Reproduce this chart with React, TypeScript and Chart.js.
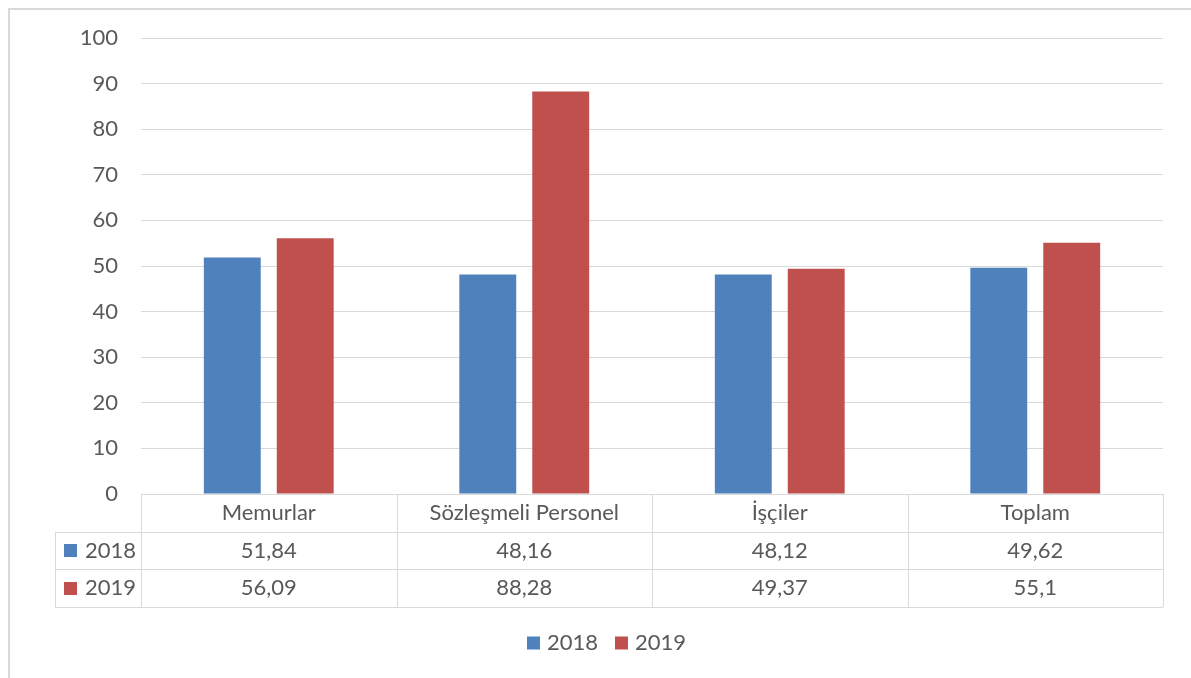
import React, { useEffect, useRef } from "react";
import { Chart, registerables } from "chart.js";

Chart.register(...registerables);

const categories = ["Memurlar", "Sözleşmeli Personel", "İşçiler", "Toplam"];
const seriesNames = ["2018", "2019"];
const values2018 = [51.84, 48.16, 48.12, 49.62];
const values2019 = [56.09, 88.28, 49.37, 55.1];
const seriesColors = ["#4F81BD", "#C0504D"];
const yMin = 0;
const yMax = 100;
const yStep = 10;

const FONT = "Lato, 'Open Sans', sans-serif";
const FSIZE = 22;
const TEXT = "#595959";
const LINE = "#d9d9d9";

const fmt = (v: number) => String(v).replace(".", ",");

const tablePlugin = {
  id: "dataTable",
  afterDraw(chart: any) {
    const ctx = chart.ctx as CanvasRenderingContext2D;
    const { left, right, bottom } = chart.chartArea;
    const n = chart.data.labels.length;
    const colW = (right - left) / n;
    const rowH = 37.7;
    const tLeft = 45;
    const r0 = bottom;
    const r1 = bottom + rowH;
    const r2 = bottom + rowH * 2;
    const r3 = bottom + rowH * 3;
    const px = (v: number) => Math.round(v) + 0.5;
    ctx.save();
    ctx.strokeStyle = LINE;
    ctx.lineWidth = 1;
    ctx.beginPath();
    ctx.moveTo(left, px(r0));
    ctx.lineTo(right, px(r0));
    [r1, r2, r3].forEach((y) => {
      ctx.moveTo(tLeft, px(y));
      ctx.lineTo(right, px(y));
    });
    for (let i = 0; i <= n; i++) {
      const x = px(left + i * colW);
      ctx.moveTo(x, r0);
      ctx.lineTo(x, r3);
    }
    ctx.moveTo(px(tLeft), r1);
    ctx.lineTo(px(tLeft), r3);
    ctx.stroke();

    ctx.fillStyle = TEXT;
    ctx.font = `${FSIZE}px ${FONT}`;
    ctx.textAlign = "center";
    ctx.textBaseline = "middle";
    const xs = chart.scales.x;
    chart.data.labels.forEach((lab: string, i: number) => {
      const cx = xs.getPixelForValue(i);
      ctx.fillText(lab, cx, (r0 + r1) / 2);
    });
    chart.data.datasets.forEach((ds: any, di: number) => {
      const yc = di === 0 ? (r1 + r2) / 2 : (r2 + r3) / 2;
      ds.data.forEach((v: number, i: number) => {
        ctx.fillStyle = TEXT;
        ctx.textAlign = "center";
        ctx.fillText(fmt(v), xs.getPixelForValue(i), yc);
      });
      ctx.fillStyle = ds.backgroundColor;
      ctx.fillRect(54, Math.round(yc - 6.5), 13, 13);
      ctx.fillStyle = TEXT;
      ctx.textAlign = "left";
      ctx.fillText(ds.label, 75, yc);
    });

    // bottom legend
    const ly = 633;
    let lx = 517;
    chart.data.datasets.forEach((ds: any) => {
      ctx.fillStyle = ds.backgroundColor;
      ctx.fillRect(lx, ly - 6.5, 13, 13);
      ctx.fillStyle = TEXT;
      ctx.textAlign = "left";
      ctx.fillText(ds.label, lx + 20, ly);
      lx += 88;
    });
    ctx.restore();
  },
};

export default function App() {
  const ref = useRef<HTMLCanvasElement | null>(null);
  useEffect(() => {
    if (!ref.current) return;
    const chart = new Chart(ref.current, {
      type: "bar",
      data: {
        labels: categories,
        datasets: [
          { label: seriesNames[0], data: values2018, backgroundColor: seriesColors[0] },
          { label: seriesNames[1], data: values2019, backgroundColor: seriesColors[1] },
        ],
      },
      options: {
        animation: false,
        responsive: false,
        maintainAspectRatio: false,
        layout: { padding: { top: 28, left: 0, right: 28, bottom: 184 } },
        datasets: { bar: { categoryPercentage: 0.571, barPercentage: 0.78 } },
        plugins: { legend: { display: false }, tooltip: { enabled: false } },
        scales: {
          x: {
            display: true,
            grid: { display: false },
            border: { display: false },
            ticks: { display: false },
            afterFit: (s: any) => {
              s.height = 0;
              s.paddingLeft = 0;
              s.paddingRight = 0;
            },
          },
          y: {
            min: yMin,
            max: yMax,
            ticks: { stepSize: yStep, color: TEXT, font: { family: FONT, size: FSIZE }, padding: 23 },
            grid: { color: LINE, drawTicks: false },
            border: { display: false },
            afterFit: (s: any) => {
              s.width = 131;
              s.paddingTop = 0;
              s.paddingBottom = 0;
            },
          },
        },
      },
      plugins: [tablePlugin],
    });
    return () => chart.destroy();
  }, []);
  return (
    <div
      style={{
        position: "fixed",
        left: 8,
        top: 8,
        width: 1183,
        height: 670,
        borderTop: "2px solid #d9d9d9",
        borderLeft: "2px solid #d9d9d9",
        background: "#fff",
      }}
    >
      <canvas ref={ref} width={1181} height={668} style={{ display: "block" }} />
    </div>
  );
}
